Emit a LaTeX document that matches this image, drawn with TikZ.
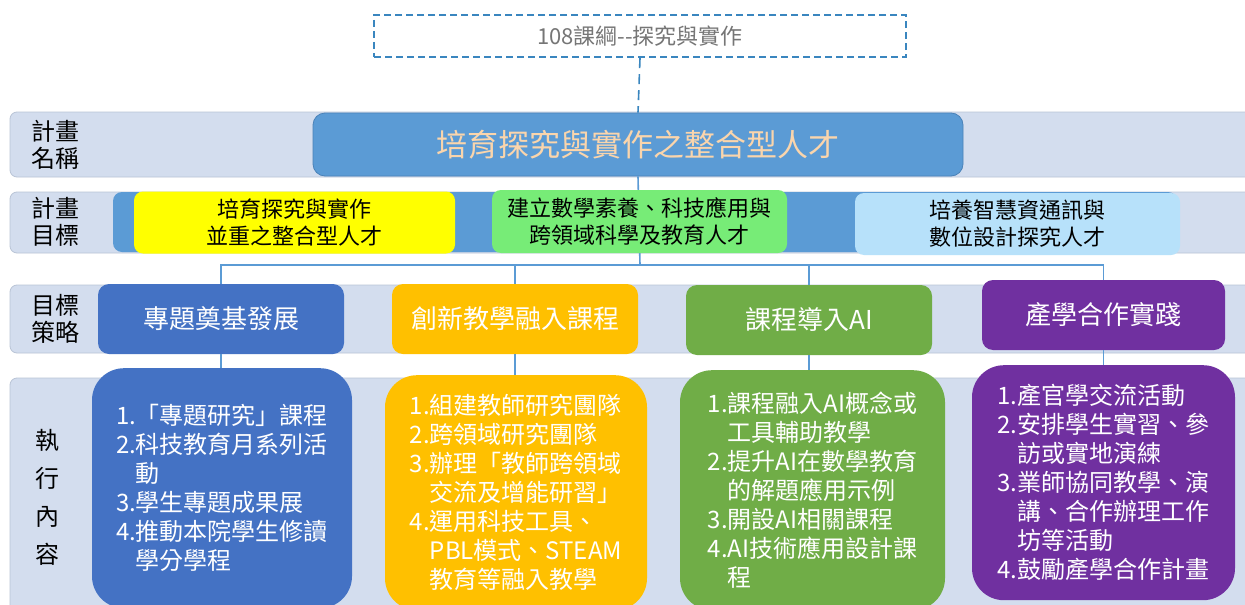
\documentclass[tikz,border=0pt]{standalone}
\usepackage{fontspec}
\setmainfont{Noto Sans CJK TC}
\definecolor{band}{HTML}{D3DDEE}
\definecolor{bandline}{HTML}{B9C4D6}
\definecolor{mainblue}{HTML}{5B9BD5}
\definecolor{mainline}{HTML}{4A82B8}
\definecolor{titletxt}{HTML}{FAD5AC}
\definecolor{cyellow}{HTML}{FFFF00}
\definecolor{cgreen}{HTML}{77EC77}
\definecolor{clblue}{HTML}{B7E1FA}
\definecolor{sblue}{HTML}{4472C4}
\definecolor{sorange}{HTML}{FFC000}
\definecolor{sgreen}{HTML}{70AD47}
\definecolor{spurple}{HTML}{7030A0}
\definecolor{dashc}{HTML}{3A86BF}
\definecolor{graytxt}{HTML}{767676}
\tikzset{
  bandbox/.style={fill=band, draw=bandline, line width=0.8pt, rounded corners=7pt},
  rowlabel/.style={font=\fontsize{24}{27}\selectfont, align=center, text=black, inner sep=0pt},
  goalbox/.style={rounded corners=9pt, minimum height=62pt, align=center, inner sep=0pt,
     font=\fontsize{22}{27}\selectfont, text=black},
  stratbox/.style={rounded corners=11pt, minimum width=246pt, minimum height=70pt,
     font=\fontsize{26}{28}\selectfont, text=white, inner sep=0pt},
  execbox/.style={rounded corners=32pt, minimum width=262pt, minimum height=250pt, anchor=north,
     font=\fontsize{24}{29}\selectfont, text=white, align=left, inner sep=0pt},
  conn/.style={draw=mainblue, line width=1.6pt},
}
\newcommand{\ind}[1]{\phantom{#1}}
\begin{document}
\begin{tikzpicture}[x=1pt,y=-1pt]
\clip (0,0) rectangle (1245,605);
\fill[white] (0,0) rectangle (1245,605);
% bands
\draw[bandbox] (10,112) rectangle (1260,177);
\draw[bandbox] (10,192) rectangle (1260,253);
\draw[bandbox] (10,285) rectangle (1260,353);
\draw[bandbox] (10,378) rectangle (1260,640);
\node[rowlabel] (l1) at (55,145) {計畫\\名稱};
\node[rowlabel] (l2) at (55,222) {計畫\\目標};
\node[rowlabel] (l3) at (55,319) {目標\\策略};
\node[rowlabel, font=\fontsize{24}{38}\selectfont] (l4) at (47,497) {執\\行\\內\\容};
% top dashed box
\node[draw=dashc, line width=2.4pt, dash pattern=on 7pt off 4pt, minimum width=532pt, minimum height=42pt,
      text=graytxt, font=\fontsize{22}{24}\selectfont, inner sep=0pt] (top) at (640,36) {108課綱{-}{-}探究與實作};
% main box
\node[fill=mainblue, draw=mainline, line width=0.8pt, rounded corners=12pt, minimum width=650pt, minimum height=63pt,
      text=titletxt, font=\fontsize{31}{33}\selectfont, inner sep=0pt] (main) at (638,144.5) {培育探究與實作之整合型人才};
\draw[dashc, line width=1.6pt, dash pattern=on 10pt off 6pt] (top.south) -- (main.north);
% hub for tree connector
\coordinate (hub) at (640,265);
\draw[conn] (main.south) -- (hub);
% goal row
\node[fill=mainblue, rounded corners=9pt, minimum width=1064pt, minimum height=60pt, inner sep=0pt] (bar) at (645,222) {};
\node[goalbox, fill=cyellow, minimum width=321pt] (g1) at (294.5,222.5) {培育探究與實作\\並重之整合型人才};
\node[goalbox, fill=cgreen, minimum width=295pt, minimum height=63pt] (g2) at (639.5,221.5) {建立數學素養、科技應用與\\跨領域科學及教育人才};
\node[goalbox, fill=clblue, minimum width=325pt] (g3) at (1017.5,224) {培養智慧資通訊與\\數位設計探究人才};
% strategy row
\node[stratbox, fill=sblue] (s1) at (221,319) {專題奠基發展};
\node[stratbox, fill=sorange] (s2) at (515,319) {創新教學融入課程};
\node[stratbox, fill=sgreen] (s3) at (809,320) {課程導入AI};
\node[stratbox, fill=spurple, minimum width=243pt] (s4) at (1103.5,315) {產學合作實踐};
\draw[conn] (s1.north) |- (hub) -| (s4.north);
\draw[conn] (s2.north) -- (s2.north |- hub);
\draw[conn] (s3.north) -- (s3.north |- hub);
% execution row
\node[execbox, fill=sblue, minimum width=260pt, minimum height=240pt] (e1) at (222,368) {%
1.「專題研究」課程\\
2.科技教育月系列活\\
\ind{2.}動\\
3.學生專題成果展\\
4.推動本院學生修讀\\
\ind{4.}學分學程};
\node[execbox, fill=sorange, minimum height=235pt] (e2) at (516,375) {%
1.組建教師研究團隊\\
2.跨領域研究團隊\\
3.辦理「教師跨領域\\
\ind{3.}交流及增能研習」\\
4.運用科技工具、\\
\ind{4.}PBL模式、STEAM\\
\ind{4.}教育等融入教學};
\node[execbox, fill=sgreen, minimum width=265pt, minimum height=240pt] (e3) at (812.5,370) {%
1.課程融入AI概念或\\
\ind{1.}工具輔助教學\\
2.提升AI在數學教育\\
\ind{2.}的解題應用示例\\
3.開設AI相關課程\\
4.AI技術應用設計課\\
\ind{4.}程};
\node[execbox, fill=spurple, minimum width=263pt, minimum height=235pt] (e4) at (1103.5,365) {%
1.產官學交流活動\\
2.安排學生實習、參\\
\ind{2.}訪或實地演練\\
3.業師協同教學、演\\
\ind{3.}講、合作辦理工作\\
\ind{3.}坊等活動\\
4.鼓勵產學合作計畫};
\draw[conn] (s1.south) -- (s1.south |- e1.north);
\draw[conn] (s2.south) -- (s2.south |- e2.north);
\draw[conn] (s3.south) -- (s3.south |- e3.north);
\draw[conn] (s4.south) -- (s4.south |- e4.north);
\end{tikzpicture}
\end{document}
